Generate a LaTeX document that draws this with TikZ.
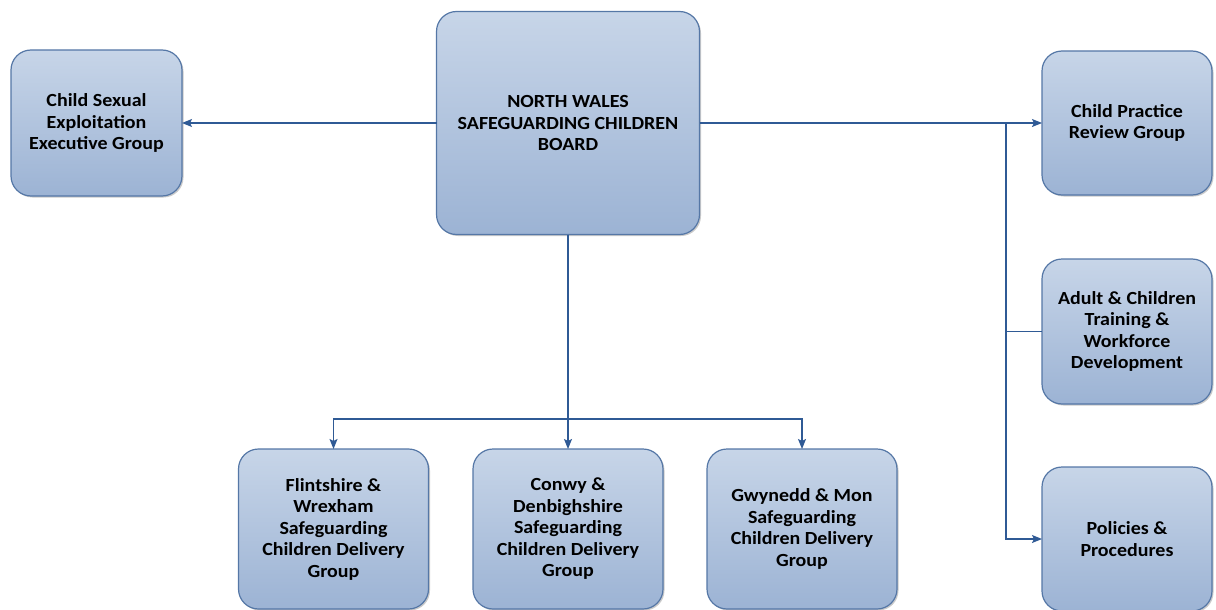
\documentclass[tikz,border=0pt]{standalone}
\usepackage{fontspec}
\setmainfont{Carlito}[BoldFeatures={FakeStretch=1.08}]
\usetikzlibrary{arrows.meta,shadows,calc}
\definecolor{boxtop}{HTML}{C7D5E8}
\definecolor{boxbot}{HTML}{9CB3D4}
\definecolor{boxline}{HTML}{5577A6}
\definecolor{connline}{HTML}{2F5A95}
\begin{document}
\begin{tikzpicture}[x=1pt,y=-1pt,
  orgbox/.style={draw=boxline, line width=1.2pt, rounded corners=20pt,
    top color=boxtop, bottom color=boxbot, inner sep=0pt, outer sep=0pt,
    align=center, font=\fontsize{18.5}{21.5}\selectfont\bfseries, text=black,
    drop shadow={shadow xshift=1.5pt, shadow yshift=-1.5pt, opacity=0.35, fill=black!60}},
  conn/.style={draw=connline, line width=1.2pt},
  arr/.style={conn, -{Stealth[length=10pt,width=8pt,inset=2pt]}}]
\useasboundingbox (0,0) rectangle (1216,610);
\node[orgbox, minimum width=171pt, minimum height=146pt] (cse) at (96.5,123) {Child Sexual\\Exploitation\\Executive Group};
\node[orgbox, minimum width=263pt, minimum height=223pt] (nw) at (568,123) {NORTH WALES\\SAFEGUARDING CHILDREN\\BOARD};
\node[orgbox, minimum width=170pt, minimum height=144pt] (cpr) at (1127,123) {Child Practice\\Review Group};
\node[orgbox, minimum width=170pt, minimum height=145pt] (adult) at (1127,331.5) {Adult \& Children\\Training \&\\Workforce\\Development};
\node[orgbox, minimum width=170pt, minimum height=144pt] (pol) at (1127,539) {Policies \&\\Procedures};
\node[orgbox, minimum width=190pt, minimum height=160pt] (flint) at (333.5,529) {Flintshire \&\\Wrexham\\Safeguarding\\Children Delivery\\Group};
\node[orgbox, minimum width=190pt, minimum height=160pt] (conwy) at (568,529) {Conwy \&\\Denbighshire\\Safeguarding\\Children Delivery\\Group};
\node[orgbox, minimum width=190pt, minimum height=160pt] (gwyn) at (802,529) {Gwynedd \& Mon\\Safeguarding\\Children Delivery\\Group};
\coordinate (j1) at (1006,123);
\coordinate (j2) at (1006,331.5);
\coordinate (bus) at (568,419);
\draw[arr] (nw.west) -- (cse.east);
\draw[arr] (nw.east) -- (cpr.west);
\draw[arr] (j1) |- (pol.west);
\draw[conn] (j2) -- (adult.west);
\draw[arr] (nw.south) -- (conwy.north);
\draw[arr] (bus) -| (flint.north);
\draw[arr] (bus) -| (gwyn.north);
\end{tikzpicture}
\end{document}
